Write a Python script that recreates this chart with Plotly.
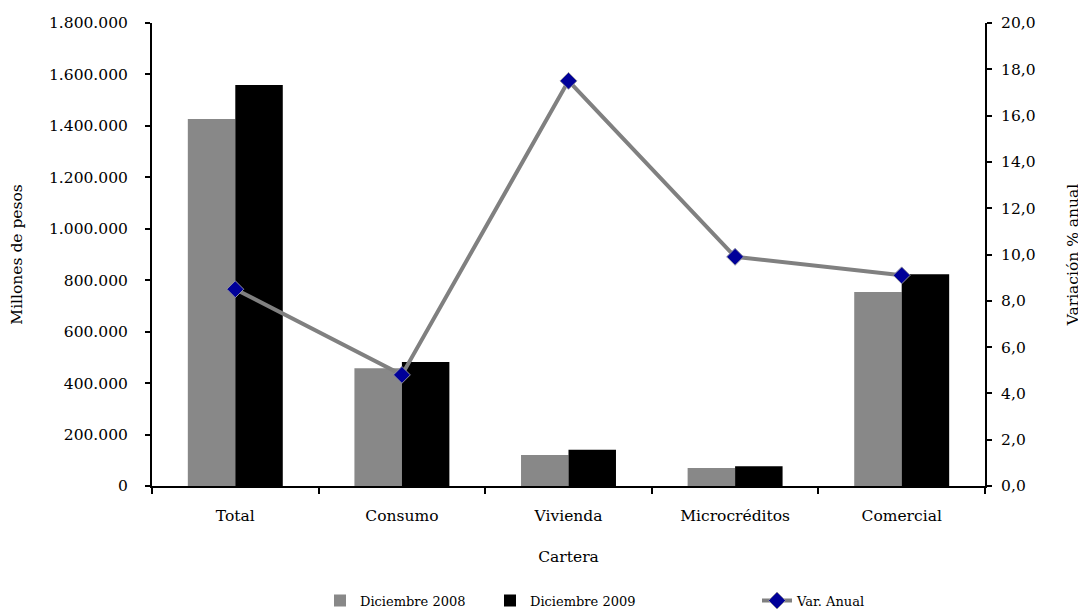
import plotly.graph_objects as go

categorias = ["Total", "Consumo", "Vivienda", "Microcréditos", "Comercial"]
dic_2008 = [1427000, 458000, 120500, 70000, 754000]
dic_2009 = [1559000, 482000, 141000, 77000, 823000]
var_anual = [8.5, 4.8, 17.5, 9.9, 9.1]
ticks_izq = list(range(0, 1800001, 200000))
ticks_der = [i * 2 for i in range(11)]

FONT = "DejaVu Serif"
FS = 15.5
LFS = 13

fig = go.Figure()
fig.add_trace(go.Bar(x=categorias, y=dic_2008, name="Diciembre 2008", legend="legend",
                     marker=dict(color="#888888", line=dict(width=0))))
fig.add_trace(go.Bar(x=categorias, y=dic_2009, name="Diciembre 2009", legend="legend2",
                     marker=dict(color="#000000", line=dict(width=0))))
fig.add_trace(go.Scatter(x=categorias, y=var_anual, name="Var. Anual", yaxis="y2",
                         legend="legend3", mode="lines+markers",
                         line=dict(color="#808080", width=4),
                         marker=dict(symbol="diamond", size=13, color="#000099",
                                     line=dict(color="#9090a0", width=1))))

tick_common = dict(tickcolor="black", tickwidth=1.5, ticklen=5, showgrid=False,
                   zeroline=False, automargin=False)


def leg(xpx):
    return dict(orientation="h", xref="container", x=xpx / 1078, xanchor="left",
                yref="container", y=0.014, yanchor="middle",
                font=dict(family=FONT, size=LFS), bgcolor="rgba(0,0,0,0)")


fig.update_layout(
    width=1078, height=601,
    margin=dict(l=144, r=101, t=15, b=123),
    paper_bgcolor="white", plot_bgcolor="white",
    separators=",.",
    font=dict(family=FONT, size=FS, color="#000000"),
    barmode="group", bargap=0.43, bargroupgap=0,
    showlegend=True,
    legend=leg(312), legend2=leg(482), legend3=leg(749),
    xaxis=dict(showline=True, linecolor="black", linewidth=2,
               ticks="outside", ticklen=6, tickwidth=1.5, tickcolor="black",
               tickson="boundaries", ticklabelstandoff=14, automargin=False,
               title=dict(text="Cartera", standoff=28, font=dict(family=FONT, size=FS)),
               showgrid=False),
    xaxis2=dict(overlaying="x", anchor="y", range=[-0.5, 4.5],
                tickvals=[0.5, 1.5, 2.5, 3.5], ticks="inside", ticklen=6,
                tickwidth=1.5, tickcolor="black", showticklabels=False,
                showline=False, showgrid=False, zeroline=False, automargin=False),
    yaxis=dict(range=[0, 1800000], tickvals=ticks_izq,
               tickformat=",d", showline=True, linecolor="black", linewidth=2,
               ticks="outside", ticklabelstandoff=14, **tick_common,
               title=dict(text="Millones de pesos", standoff=24,
                          font=dict(family=FONT, size=FS))),
    yaxis2=dict(range=[0, 20], tickvals=ticks_der,
                tickformat=".1f", overlaying="y", side="right",
                showline=True, linecolor="black", linewidth=2,
                ticks="outside", ticklabelstandoff=6, **tick_common,
                title=dict(text="Variación % anual", standoff=33,
                           font=dict(family=FONT, size=FS))),
    yaxis3=dict(range=[0, 1800000], tickvals=ticks_izq, overlaying="y", side="left",
                anchor="x", ticks="inside", showticklabels=False, showline=False,
                **tick_common),
    yaxis4=dict(range=[0, 20], tickvals=ticks_der, overlaying="y", side="right",
                anchor="x", ticks="inside", showticklabels=False, showline=False,
                **tick_common),
)

fig.write_html("out.html")
